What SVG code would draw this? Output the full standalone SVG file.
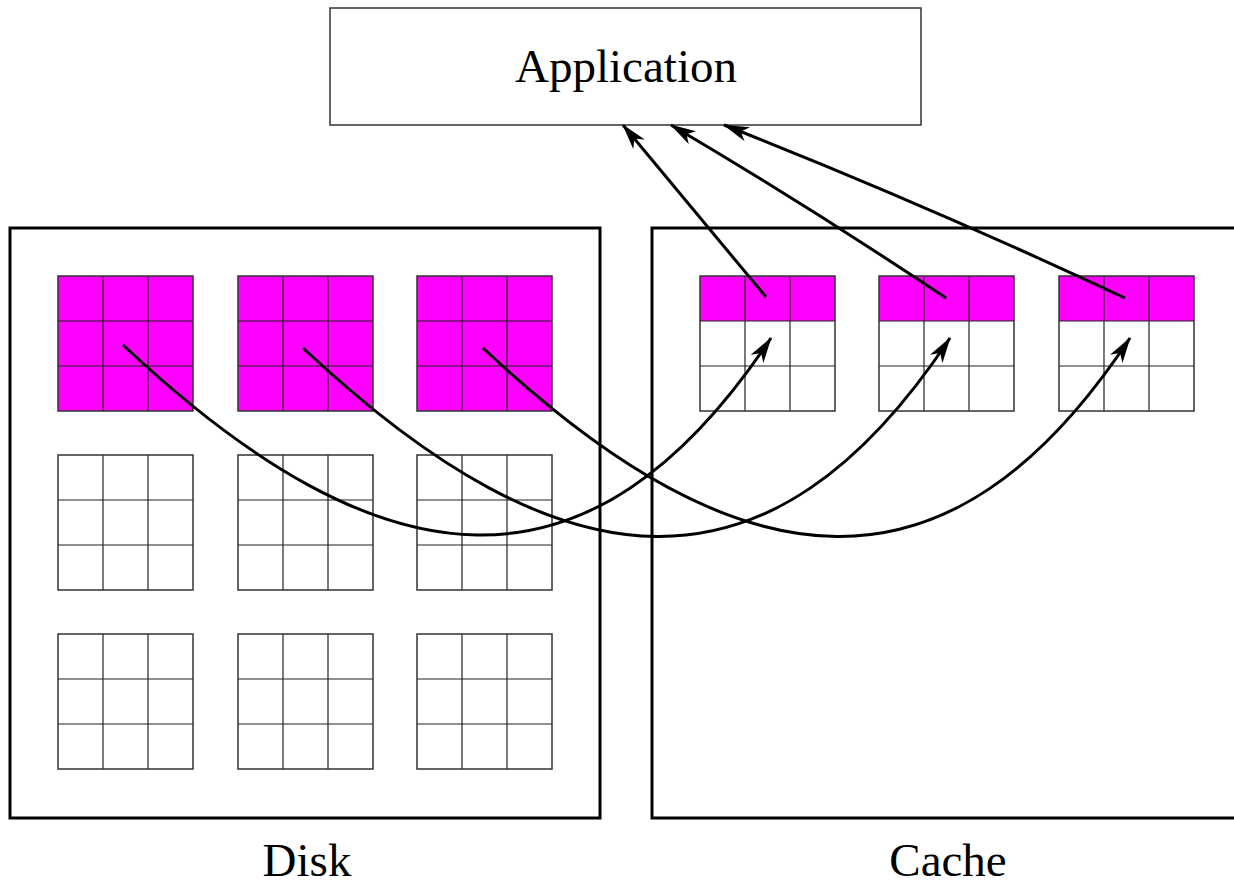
<svg xmlns="http://www.w3.org/2000/svg" xmlns:xlink="http://www.w3.org/1999/xlink" width="1234" height="884" viewBox="0 0 1234 884">
  <style>
    .label { font-family: "Liberation Serif", "Times New Roman", serif; font-size: 47px; fill: #000; text-anchor: middle; }
    .box { fill: #fff; stroke: #000; stroke-width: 3; }
    .appbox { fill: #fff; stroke: #333; stroke-width: 1.5; }
    .cell { fill: none; stroke: #222; stroke-width: 1.2; }
    .outline { fill: none; stroke: #333; stroke-width: 1.5; }
    .hot { fill: #ff00ff; stroke: none; }
    .conn { fill: none; stroke: #000; stroke-width: 3; }
  </style>
  <defs>
    <marker id="arrow" viewBox="0 0 26 15" refX="25" refY="7.5" markerWidth="26" markerHeight="15" markerUnits="userSpaceOnUse" orient="auto">
      <path d="M0,0 L26,7.5 L0,15 L7,7.5 z" fill="#000"/>
    </marker>
    <g id="grid">
      <line class="cell" x1="45" y1="0" x2="45" y2="135"/>
      <line class="cell" x1="90" y1="0" x2="90" y2="135"/>
      <line class="cell" x1="0" y1="45" x2="135" y2="45"/>
      <line class="cell" x1="0" y1="90" x2="135" y2="90"/>
      <rect class="outline" x="0" y="0" width="135" height="135"/>
    </g>
    <g id="fullBlock">
      <rect class="hot" x="0" y="0" width="135" height="135"/>
      <use xlink:href="#grid"/>
    </g>
    <g id="rowBlock">
      <rect class="hot" x="0" y="0" width="135" height="45"/>
      <use xlink:href="#grid"/>
    </g>
  </defs>

  <rect x="0" y="0" width="1234" height="884" fill="#fff"/>

  <g id="application">
    <rect class="appbox" x="330" y="8" width="591" height="117"/>
    <text class="label" x="626" y="82">Application</text>
  </g>

  <g id="disk">
    <rect class="box" x="10" y="228" width="590" height="590"/>
    <text class="label" x="307" y="876">Disk</text>
    <g id="disk-block-1"><use xlink:href="#fullBlock" x="58" y="276"/></g>
    <g id="disk-block-2"><use xlink:href="#fullBlock" x="238" y="276"/></g>
    <g id="disk-block-3"><use xlink:href="#fullBlock" x="417" y="276"/></g>
    <g id="disk-block-4"><use xlink:href="#grid" x="58" y="455"/></g>
    <g id="disk-block-5"><use xlink:href="#grid" x="238" y="455"/></g>
    <g id="disk-block-6"><use xlink:href="#grid" x="417" y="455"/></g>
    <g id="disk-block-7"><use xlink:href="#grid" x="58" y="634"/></g>
    <g id="disk-block-8"><use xlink:href="#grid" x="238" y="634"/></g>
    <g id="disk-block-9"><use xlink:href="#grid" x="417" y="634"/></g>
  </g>

  <g id="cache">
    <rect class="box" x="652" y="228" width="590" height="590"/>
    <text class="label" x="948" y="876">Cache</text>
    <g id="cache-block-1"><use xlink:href="#rowBlock" x="700" y="276"/></g>
    <g id="cache-block-2"><use xlink:href="#rowBlock" x="879" y="276"/></g>
    <g id="cache-block-3"><use xlink:href="#rowBlock" x="1059" y="276"/></g>
  </g>

  <g id="connectors">
    <path class="conn" d="M123,345 C383,589 590,610 771,338" marker-end="url(#arrow)"/>
    <path class="conn" d="M303,348 C563,592 770,610 950,338" marker-end="url(#arrow)"/>
    <path class="conn" d="M483,348 C743,592 950,610 1130,338" marker-end="url(#arrow)"/>
    <path class="conn" d="M766,297 L623,125" marker-end="url(#arrow)"/>
    <path class="conn" d="M946,298 Q810,207 671,125" marker-end="url(#arrow)"/>
    <path class="conn" d="M1125,298 Q920,202 724,125" marker-end="url(#arrow)"/>
  </g>
</svg>
